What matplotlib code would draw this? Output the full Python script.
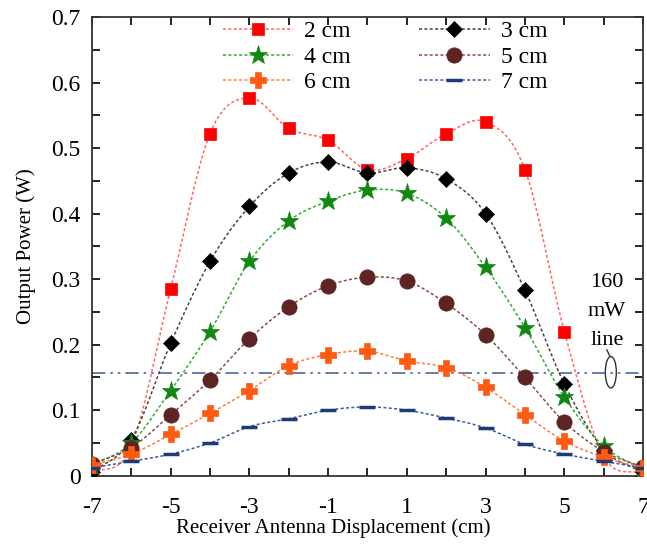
import matplotlib.pyplot as plt
import numpy as np
from matplotlib.lines import Line2D
from matplotlib.patches import Ellipse

plt.rcParams['font.family'] = ['Liberation Serif', 'DejaVu Serif']
plt.rcParams['axes.unicode_minus'] = False

x = np.arange(-7, 8)
p2 = [0.003, 0.045, 0.285, 0.522, 0.577, 0.530, 0.512, 0.467, 0.484, 0.522, 0.540, 0.467, 0.220, 0.030, 0.003]
p3 = [0.005, 0.055, 0.202, 0.327, 0.411, 0.462, 0.479, 0.462, 0.470, 0.453, 0.400, 0.283, 0.140, 0.040, 0.005]
p4 = [0.015, 0.050, 0.130, 0.220, 0.327, 0.389, 0.419, 0.436, 0.431, 0.393, 0.318, 0.226, 0.120, 0.045, 0.010]
p5 = [0.018, 0.043, 0.093, 0.146, 0.209, 0.258, 0.290, 0.303, 0.297, 0.263, 0.215, 0.150, 0.082, 0.037, 0.013]
p6 = [0.016, 0.033, 0.063, 0.095, 0.130, 0.168, 0.185, 0.190, 0.175, 0.165, 0.135, 0.093, 0.053, 0.028, 0.012]
p7 = [0.012, 0.022, 0.033, 0.050, 0.075, 0.087, 0.100, 0.105, 0.100, 0.088, 0.073, 0.048, 0.033, 0.022, 0.012]
limit = 0.157


def smooth(xs, ys, n=20):
    # catmull-rom like excel smoothed lines
    xs = np.asarray(xs, float)
    ys = np.asarray(ys, float)
    px = np.concatenate([[2*xs[0]-xs[1]], xs, [2*xs[-1]-xs[-2]]])
    py = np.concatenate([[2*ys[0]-ys[1]], ys, [2*ys[-1]-ys[-2]]])
    outx, outy = [], []
    t = np.linspace(0, 1, n)
    for i in range(1, len(px)-2):
        for arr, out in ((px, outx), (py, outy)):
            p0, p1, p2_, p3_ = arr[i-1], arr[i], arr[i+1], arr[i+2]
            out.extend(0.5*((2*p1) + (-p0+p2_)*t + (2*p0-5*p1+4*p2_-p3_)*t**2 + (-p0+3*p1-3*p2_+p3_)*t**3))
    return outx, outy


series = [
    (p2, '2 cm', '#ff0000', 's', 9, '#ff6666'),
    (p3, '3 cm', '#000000', 'D', 8, '#444444'),
    (p4, '4 cm', '#118811', '*', 14, '#33aa33'),
    (p5, '5 cm', '#5e2323', 'o', 11, '#8a4a4a'),
    (p6, '6 cm', '#ff5a14', 'P', 12, '#ff7a44'),
    (p7, '7 cm', '#1f3a7a', '_', 11, '#3a5aa0'),
]

fig = plt.figure(figsize=(6.47, 5.5), dpi=100)
ax = fig.add_axes([0.142, 0.135, 0.852, 0.834])

ax.axhline(limit, color='#4a6a9a', ls=(0, (8, 3, 1.5, 3, 1.5, 3)), lw=1.2, zorder=1)

handles = []
for ys, lab, c, m, ms, lc in series:
    sx, sy = smooth(x, ys)
    ax.plot(sx, sy, color=lc, ls=(0, (2, 1.5)), lw=1.1, zorder=2)
    mew = 2.5 if m == '_' else 0.5
    ax.plot(x, ys, ls='none', marker=m, ms=ms, color=c, mec=c, mew=mew, zorder=3)
    handles.append(Line2D([], [], color=lc, ls=(0, (2, 1.5)), lw=1.1, marker=m, ms=ms,
                          mfc=c, mec=c, mew=mew, label=lab))

# row-wise order: 2,3 / 4,5 / 6,7
order = [0, 2, 4, 1, 3, 5]
ax.legend(handles=[handles[i] for i in order], ncol=2, loc='upper left',
          bbox_to_anchor=(0.207, 1.028), frameon=False, fontsize=17,
          handlelength=3.0, columnspacing=2.9, labelspacing=0.17, handletextpad=0.45,
          borderpad=0.2)

ax.text(6.08, 0.295, '160', ha='center', va='center', fontsize=16)
ax.text(6.08, 0.25, 'mW', ha='center', va='center', fontsize=16)
ax.text(6.08, 0.207, 'line', ha='center', va='center', fontsize=16)
ax.add_patch(Ellipse((6.18, 0.158), 0.28, 0.048, fill=False, ec='#333333', lw=1))
ax.plot([6.08, 6.15], [0.192, 0.183], color='#333333', lw=1)

ax.set_xlim(-7, 7)
ax.set_ylim(0, 0.7)
ax.set_xticks(np.arange(-7, 8, 2))
ax.set_xticks(np.arange(-7, 8, 1), minor=True)
ax.set_yticks(np.arange(0, 0.71, 0.1))
ax.set_yticks(np.arange(0, 0.71, 0.05), minor=True)
ax.set_yticklabels(['0', '0.1', '0.2', '0.3', '0.4', '0.5', '0.6', '0.7'])
ax.tick_params(which='both', direction='in', top=True, right=True, labelsize=17, width=1.2)
ax.tick_params(which='major', length=6)
ax.tick_params(which='minor', length=6)
ax.tick_params(axis='x', pad=15)
ax.tick_params(axis='y', pad=8)
for s in ax.spines.values():
    s.set_linewidth(1.3)
    s.set_color('#333333')

ax.set_xlabel('Receiver Antenna Displacement (cm)', fontsize=15, labelpad=2)
ax.xaxis.set_label_coords(0.437, -0.092)
ax.set_ylabel('Output Power (W)', fontsize=15, labelpad=11)

fig.savefig('out.png', dpi=100)
